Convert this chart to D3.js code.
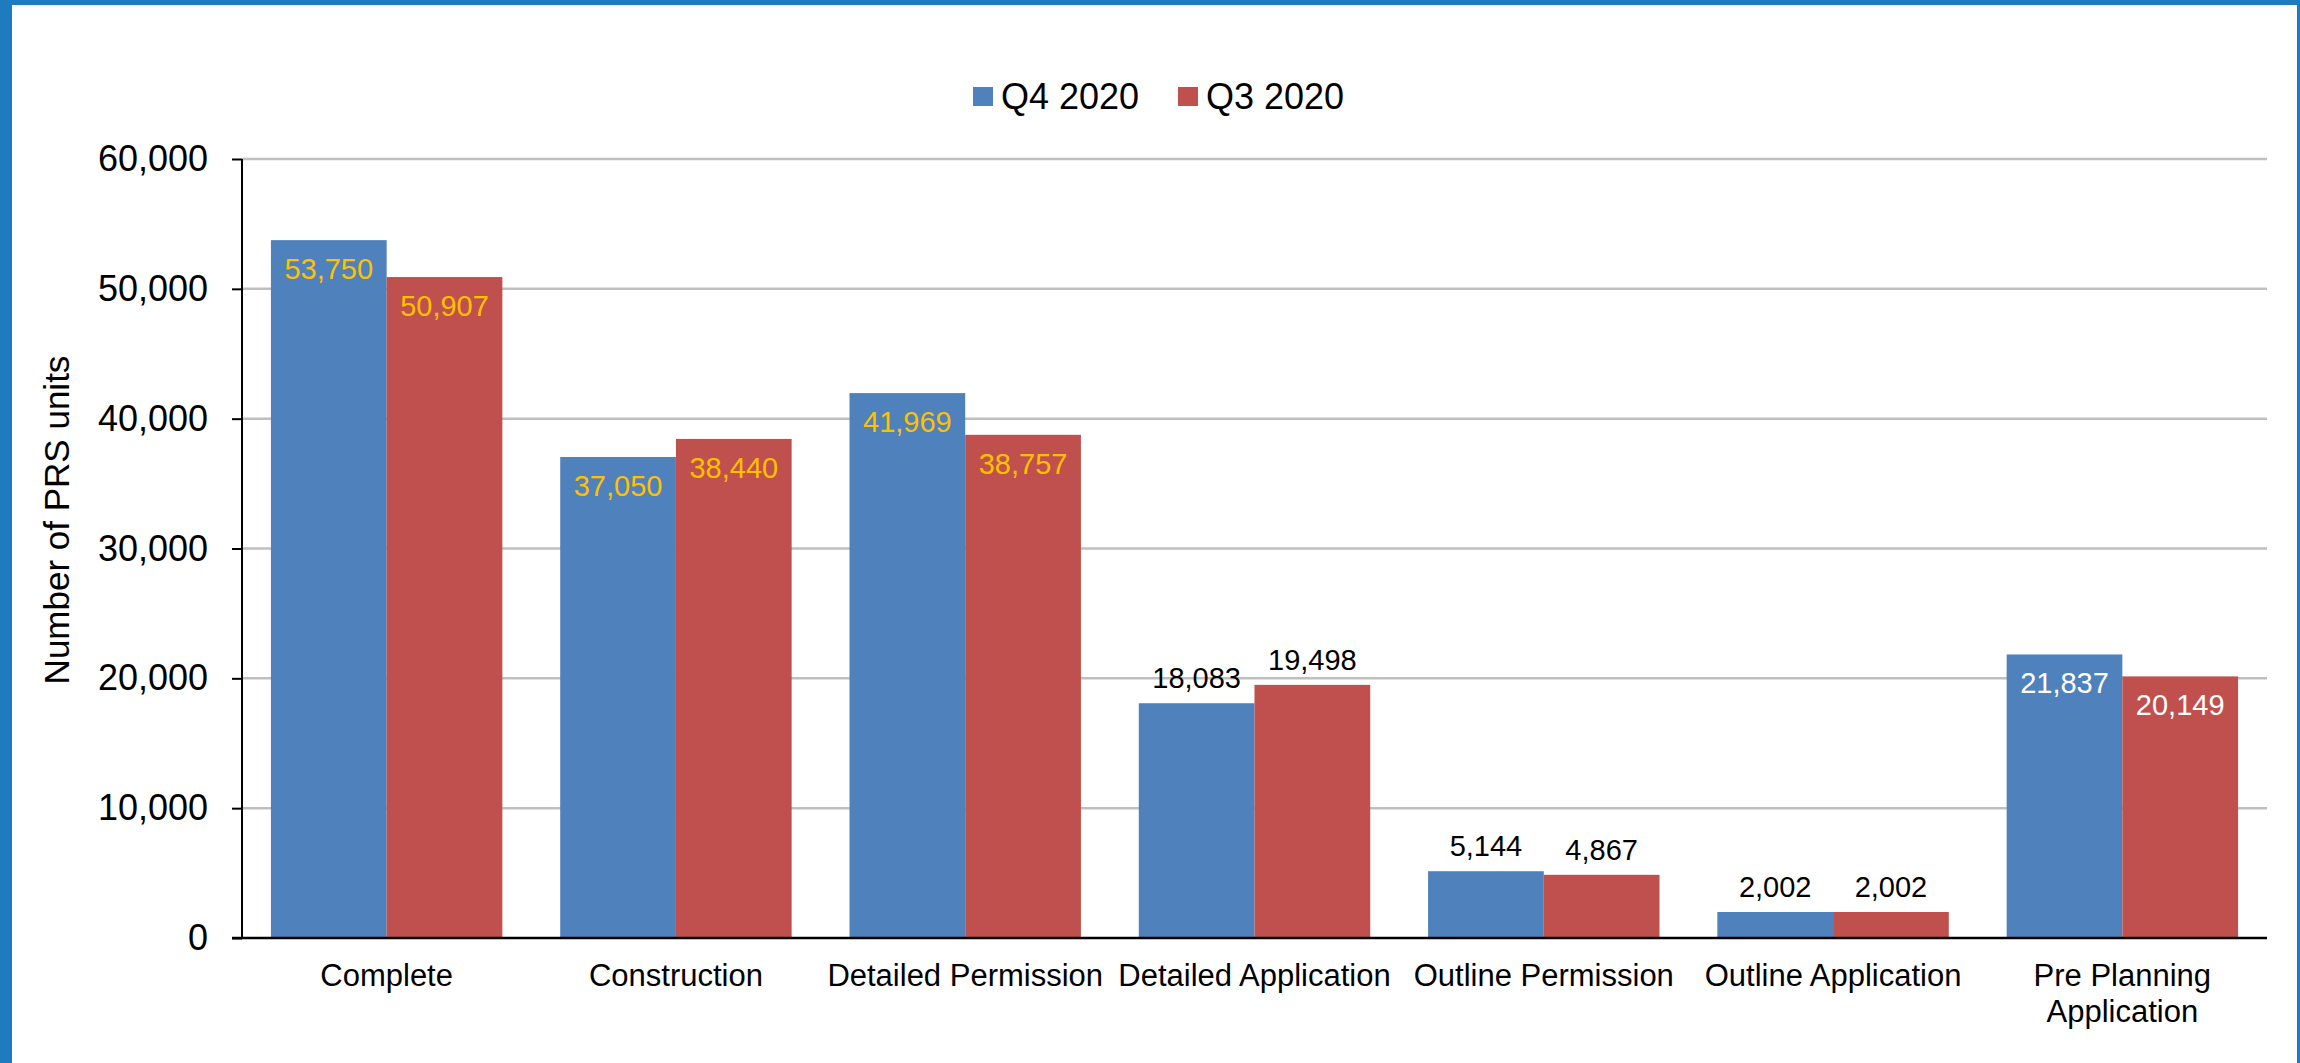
<!DOCTYPE html>
<html>
<head>
<meta charset="utf-8">
<script src="https://cdn.jsdelivr.net/npm/d3@7"></script>
<style>
html,body{margin:0;padding:0;background:#fff;}
text{font-family:"Liberation Sans",Arial,sans-serif;}
</style>
</head>
<body>
<svg id="chart" width="2300" height="1063"></svg>
<script>
const categories = ["Complete","Construction","Detailed Permission","Detailed Application","Outline Permission","Outline Application","Pre Planning Application"];
const seriesNames = ["Q4 2020","Q3 2020"];
const q4Values = [53750,37050,41969,18083,5144,2002,21837];
const q3Values = [50907,38440,38757,19498,4867,2002,20149];
const yTicks = [0,10000,20000,30000,40000,50000,60000];

const colors = ["#4F81BD","#C0504D"];
const svg = d3.select("#chart");
const W = 2300, H = 1063;
const m = {left:242, right:2267, top:159, bottom:938};

// frame
svg.append("rect").attr("x",0).attr("y",0).attr("width",W).attr("height",H).attr("fill","#1F7BC0");
svg.append("rect").attr("x",12).attr("y",5).attr("width",W-15).attr("height",H-5).attr("fill","#fff");

const x0 = d3.scaleBand().domain(categories).range([m.left,m.right]).paddingInner(0.2).paddingOuter(0.1);
const x1 = d3.scaleBand().domain(seriesNames).range([0,x0.bandwidth()]).padding(0);
const y = d3.scaleLinear().domain([0,60000]).range([m.bottom,m.top]);

// gridlines
svg.append("g").selectAll("line").data(yTicks.filter(d=>d>0)).join("line")
  .attr("x1",m.left).attr("x2",m.right)
  .attr("y1",d=>y(d)).attr("y2",d=>y(d))
  .attr("stroke","#BFBFBF").attr("stroke-width",2.5);

// y axis
const yAxis = d3.axisLeft(y).tickValues(yTicks).tickSize(10).tickPadding(24).tickFormat(d3.format(","));
const ya = svg.append("g").attr("transform",`translate(${m.left},0)`).call(yAxis);
ya.select(".domain").attr("stroke","#000").attr("stroke-width",2).attr("d",`M0,${m.top}V${m.bottom}`);
ya.selectAll(".tick line").attr("stroke","#000").attr("stroke-width",2);
ya.selectAll(".tick text").attr("font-size",36).attr("fill","#000").attr("font-family","Liberation Sans, Arial, sans-serif");

// bars
const rows = categories.map((c,i)=>({cat:c, i:i, vals:[q4Values[i],q3Values[i]]}));
const groups = svg.append("g").selectAll("g").data(rows).join("g")
  .attr("transform",d=>`translate(${x0(d.cat)},0)`);
groups.selectAll("rect").data(d=>d.vals.map((v,k)=>({v:v,k:k,i:d.i}))).join("rect")
  .attr("x",d=>x1(seriesNames[d.k]))
  .attr("width",x1.bandwidth())
  .attr("y",d=>y(d.v))
  .attr("height",d=>y(0)-y(d.v))
  .attr("fill",d=>colors[d.k]);

// data labels
function labelStyle(i){
  if(i<=2) return {inside:true, color:"#FFC000"};
  if(i===6) return {inside:true, color:"#FFFFFF"};
  return {inside:false, color:"#000000"};
}
groups.selectAll("text").data(d=>d.vals.map((v,k)=>({v:v,k:k,i:d.i}))).join("text")
  .attr("x",d=>x1(seriesNames[d.k])+x1.bandwidth()/2)
  .attr("y",d=>labelStyle(d.i).inside ? y(d.v)+39 : y(d.v)-15)
  .attr("text-anchor","middle")
  .attr("font-size",29)
  .attr("fill",d=>labelStyle(d.i).color)
  .text(d=>d3.format(",")(d.v));

// x axis line
svg.append("line").attr("x1",m.left-10).attr("x2",m.right).attr("y1",m.bottom).attr("y2",m.bottom)
  .attr("stroke","#000").attr("stroke-width",2.5);

// category labels
const catLines = {"Pre Planning Application":["Pre Planning","Application"]};
const cl = svg.append("g").selectAll("text").data(categories).join("text")
  .attr("x",d=>x0(d)+x0.bandwidth()/2)
  .attr("y",986)
  .attr("text-anchor","middle")
  .attr("font-size",31)
  .attr("fill","#000");
cl.each(function(d){
  const lines = catLines[d] || [d];
  const t = d3.select(this);
  lines.forEach((ln,j)=>{
    t.append("tspan").attr("x",x0(d)+x0.bandwidth()/2).attr("dy",j===0?0:36).text(ln);
  });
});

// y axis title
svg.append("text")
  .attr("transform",`translate(69,520) rotate(-90)`)
  .attr("text-anchor","middle")
  .attr("font-size",35)
  .attr("fill","#000")
  .text("Number of PRS units");

// legend
const legend = svg.append("g");
const legendX = [973,1178];
seriesNames.forEach((s,k)=>{
  legend.append("rect").attr("x",legendX[k]).attr("y",87).attr("width",20).attr("height",19).attr("fill",colors[k]);
  legend.append("text").attr("x",legendX[k]+28).attr("y",109).attr("font-size",36).attr("fill","#000").text(s);
});
</script>
</body>
</html>
